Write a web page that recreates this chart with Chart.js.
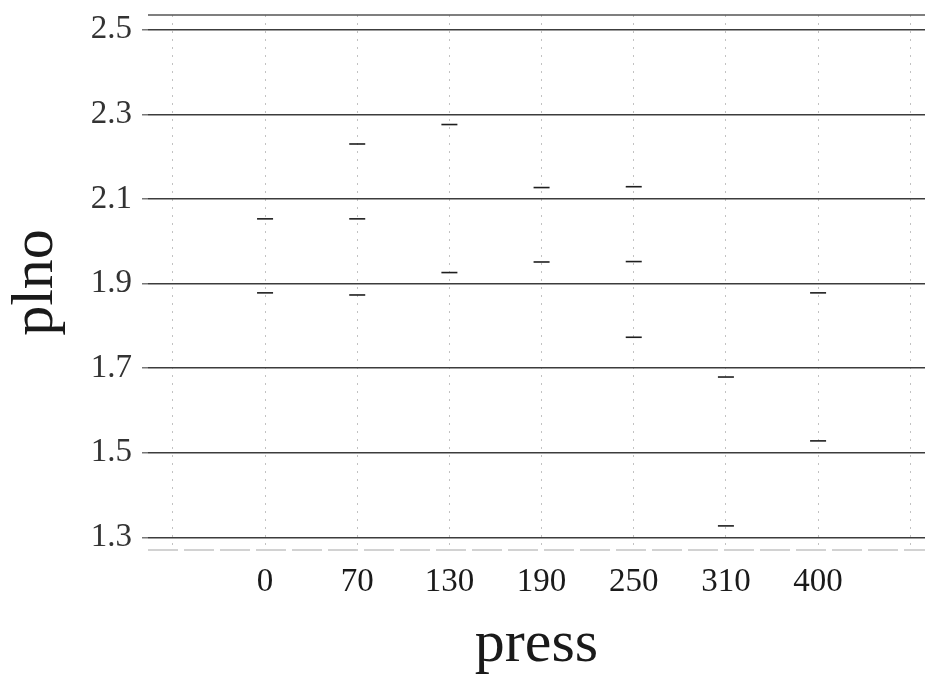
<!DOCTYPE html>
<html>
<head>
<meta charset="utf-8">
<script src="https://cdn.jsdelivr.net/npm/chart.js@4/dist/chart.umd.min.js"></script>
<style>
  html, body { margin: 0; padding: 0; background: #ffffff; }
  #wrap { width: 925px; height: 684px; }
</style>
</head>
<body>
<div id="wrap"><canvas id="c" width="925" height="684"></canvas></div>
<script>
// ---- data ----
const categories = ['0', '70', '130', '190', '250', '310', '400'];
const upperValues  = [2.053, 2.230, 2.276, 2.127, 2.129, 1.679, 1.878];
const middleValues = [1.878, 2.053, 1.926, 1.951, 1.952, 1.327, 1.528];
const lowerValues  = [null, 1.873, null, null, 1.773, null, null];
const yTickValues  = [1.3, 1.5, 1.7, 1.9, 2.1, 2.3, 2.5];
const xAxisTitle = 'press';
const yAxisTitle = 'plno';

// category k sits at position k+1 on the x scale; empty slots at 0 and n+1
function toPoints(values) {
  const pts = [];
  values.forEach((v, i) => { if (v !== null) pts.push({ x: i + 1, y: v }); });
  return pts;
}

const serif = "'Liberation Serif', 'DejaVu Serif', serif";

const frameLines = {
  id: 'frameLines',
  afterDraw(chart) {
    const { ctx, chartArea } = chart;
    ctx.save();
    ctx.lineWidth = 1.5;
    ctx.strokeStyle = '#555555';
    ctx.beginPath();
    ctx.moveTo(chartArea.left, chartArea.top);
    ctx.lineTo(chartArea.right, chartArea.top);
    ctx.stroke();
    ctx.strokeStyle = '#c4c4c4';
    ctx.setLineDash([30, 6]);
    ctx.beginPath();
    ctx.moveTo(chartArea.left, chartArea.bottom);
    ctx.lineTo(chartArea.right, chartArea.bottom);
    ctx.stroke();
    ctx.restore();
  }
};

const pointStyle = {
  showLine: false,
  pointStyle: 'line',
  pointRadius: 8,
  pointHoverRadius: 8,
  pointBorderWidth: 1.6,
  pointBorderColor: '#1e1e1e',
  pointBackgroundColor: '#1e1e1e',
  borderColor: '#1e1e1e'
};

new Chart(document.getElementById('c'), {
  type: 'scatter',
  data: {
    datasets: [
      Object.assign({ label: 'upper', data: toPoints(upperValues) }, pointStyle),
      Object.assign({ label: 'middle', data: toPoints(middleValues) }, pointStyle),
      Object.assign({ label: 'lower', data: toPoints(lowerValues) }, pointStyle)
    ]
  },
  options: {
    responsive: false,
    animation: false,
    events: [],
    layout: { autoPadding: false, padding: { top: 15, right: 0, left: 0, bottom: 0 } },
    plugins: { legend: { display: false }, tooltip: { enabled: false } },
    scales: {
      x: {
        type: 'linear',
        min: -0.27,
        max: 8.16,
        afterBuildTicks(scale) {
          const t = [];
          for (let i = 0; i <= categories.length + 1; i++) t.push({ value: i });
          scale.ticks = t;
        },
        afterFit(scale) {
          scale.height = 134;
          scale.paddingLeft = 0;
          scale.paddingRight = 0;
        },
        ticks: {
          autoSkip: false,
          maxRotation: 0,
          padding: 13,
          color: '#1a1a1a',
          font: { family: serif, size: 33 },
          callback(value) {
            const idx = Math.round(value) - 1;
            return (idx >= 0 && idx < categories.length) ? categories[idx] : '';
          }
        },
        grid: {
          drawTicks: false,
          color: '#c2c2c2',
          lineWidth: 1
        },
        border: { display: false, dash: [2, 6] },
        title: {
          display: true,
          text: xAxisTitle,
          color: '#1a1a1a',
          font: { family: serif, size: 60 },
          padding: { top: 0, bottom: 3 }
        }
      },
      y: {
        type: 'linear',
        min: 1.27,
        max: 2.535,
        afterBuildTicks(scale) {
          scale.ticks = yTickValues.map(v => ({ value: v }));
        },
        afterFit(scale) {
          scale.width = 148;
          scale.paddingTop = 0;
          scale.paddingBottom = 0;
        },
        ticks: {
          padding: 10,
          color: '#333333',
          font: { family: serif, size: 33 },
          callback(value) { return Number(value).toFixed(1); }
        },
        grid: {
          color: '#3c3c3c',
          lineWidth: 1.5,
          drawTicks: true,
          tickLength: 6,
          tickColor: '#777777'
        },
        border: { display: false },
        title: {
          display: true,
          text: yAxisTitle,
          color: '#1a1a1a',
          font: { family: serif, size: 60 },
          padding: { top: 0, bottom: 0 }
        }
      }
    }
  },
  plugins: [frameLines]
});
</script>
</body>
</html>
